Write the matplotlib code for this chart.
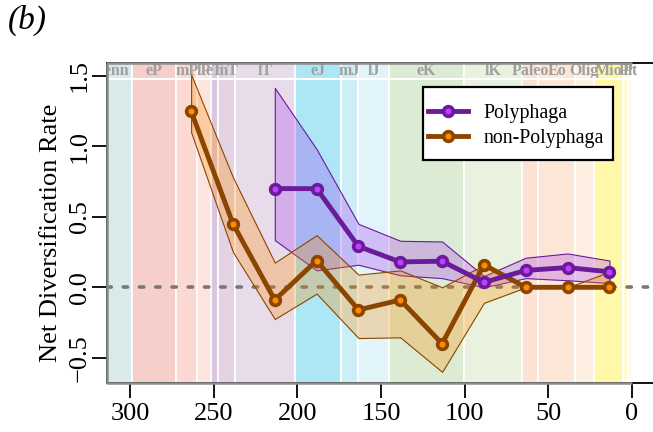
import numpy as np
import matplotlib.pyplot as plt
from matplotlib.patches import Rectangle

# net diversification rate through time, with the geological time scale behind

plt.rcParams['font.family'] = ['Liberation Serif', 'DejaVu Serif']

# bin midpoints (Ma)
ages = [13.5, 38.5, 63.5, 88.5, 113.5, 138.5, 163.5, 188.5, 213.5, 238.5, 263.5]

poly_rate = [0.11, 0.14, 0.12, 0.035, 0.185, 0.18, 0.29, 0.70, 0.70]
poly_hi = [0.19, 0.24, 0.21, 0.08, 0.325, 0.33, 0.45, 0.98, 1.415]
poly_lo = [0.03, 0.05, 0.065, 0.0, 0.065, 0.085, 0.16, 0.12, 0.335]

nonpoly_rate = [0.0, 0.0, 0.0, 0.16, -0.40, -0.09, -0.16, 0.19, -0.09, 0.45, 1.25]
nonpoly_hi = [0.11, 0.0, 0.0, 0.16, 0.0, 0.12, 0.09, 0.37, 0.175, 0.78, 1.51]
nonpoly_lo = [0.0, 0.0, 0.0, -0.11, -0.60, -0.355, -0.36, -0.045, -0.225, 0.25, 1.10]

# time scale
geo_names = ['Penn', 'eP', 'mP', 'lP', 'eT', 'mT', 'lT', 'eJ', 'mJ', 'lJ', 'eK', 'lK',
             'Paleo', 'Eo', 'Olig', 'Mio', 'Pl', 'Pt']
geo_start = [323.2, 298.9, 272.3, 259.9, 251.9, 247.2, 237.0, 201.3, 174.1, 163.5, 145.0,
             100.5, 66.0, 56.0, 33.9, 23.03, 5.333, 2.58]
geo_end = geo_start[1:] + [0.0]
geo_cols = ['#dae9e9', '#f7cfca', '#fbd9d2', '#fde4de', '#dcc5df', '#e3d3e4', '#e8dcea',
            '#ade6f5', '#cdeef6', '#e0f4fa', '#dcebd4', '#e9f2de', '#fde1d2', '#fce6d7',
            '#fdf0e3', '#fff8a8', '#fffbd0', '#fffbe8']

x_min, x_max = 313.6, -19.7
y_min, y_max = -0.681, 1.589

fig = plt.figure(figsize=(6.53, 4.32), dpi=100)
ax = fig.add_axes([107.3 / 653, 48.7 / 432, 557.7 / 653, 320 / 432])

for name, s, e, c in zip(geo_names, geo_start, geo_end, geo_cols):
    ax.add_patch(Rectangle((e, y_min), s - e, y_max - y_min, facecolor=c,
                           edgecolor='white', lw=1.2, zorder=0))
    ax.text((s + e) / 2, 1.532, name, ha='center', va='center', fontsize=11.5,
            fontweight='bold', color='#a0a0a0', clip_on=True, zorder=1)
ax.plot([0, x_min], [1.475, 1.475], color='white', lw=1.5, zorder=1)
# grey outline of the time scale (left, top, bottom)
ax.plot([0, x_min, x_min, 0], [y_max, y_max, y_min, y_min], color='#8c8c8c',
        lw=1.8, zorder=3, clip_on=False, solid_capstyle='butt')

ax.axhline(0, color='#777777', lw=2.6, ls=(0, (1.2, 3.3)), dash_capstyle='round',
           zorder=2)

n = len(poly_rate)
ax.fill_between(ages[:n], poly_lo, poly_hi, facecolor=(0.63, 0.13, 0.94, 0.25),
                edgecolor='#6a1b9a', lw=0.8, zorder=4)
ax.fill_between(ages, nonpoly_lo, nonpoly_hi, facecolor=(1.0, 0.55, 0.0, 0.28),
                edgecolor='#8b4500', lw=0.8, zorder=4)

ax.plot(ages[:n], poly_rate, color='#6a1b9a', lw=3.5, marker='o', ms=7,
        mfc='#bf3eff', mec='#6a1b9a', mew=2.6, zorder=6, label='Polyphaga')
ax.plot(ages, nonpoly_rate, color='#8b4500', lw=3.5, marker='o', ms=7,
        mfc='#ff8c00', mec='#8b4500', mew=2.6, zorder=5, label='non-Polyphaga')

ax.set_xlim(x_min, x_max)
ax.set_ylim(y_min, y_max)
ax.set_xticks([300, 250, 200, 150, 100, 50, 0])
ax.set_yticks([-0.5, 0.0, 0.5, 1.0, 1.5])
ax.tick_params(length=11, width=1.3, labelsize=19, pad=3)
ax.tick_params(axis='y', labelrotation=90, pad=1)
for lbl in ax.get_yticklabels():
    lbl.set_va('center')
for sp in ax.spines.values():
    sp.set_linewidth(1.3)

ax.set_ylabel('Net Diversification Rate', fontsize=19)
ax.yaxis.set_label_coords(-0.082, 0.47)

# legend box
ax.add_patch(Rectangle((0.566, 0.698), 0.3407, 0.228, transform=ax.transAxes,
                       facecolor='white', edgecolor='black', lw=1.6, zorder=9))
leg = ax.legend(loc='center left', bbox_to_anchor=(0.575, 0.803), borderaxespad=0,
                fontsize=14.3, frameon=False, handlelength=2.0, handletextpad=0.8,
                borderpad=0, labelspacing=0.3)
leg.set_zorder(10)

fig.text(0.012, 0.99, '(b)', fontsize=24, style='italic', va='top', ha='left')

plt.savefig('out.png', dpi=100)
